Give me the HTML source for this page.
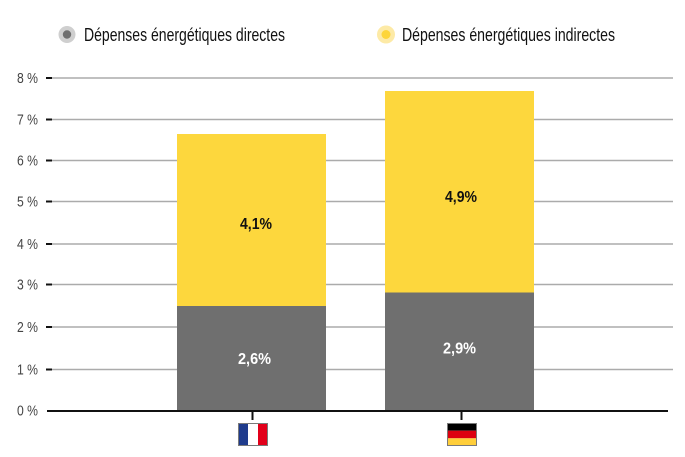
<!DOCTYPE html>
<html>
<head>
<meta charset="utf-8">
<style>
html,body{margin:0;padding:0;background:#fff;}
svg{display:block;}
text{font-family:"Liberation Sans",sans-serif;}
</style>
</head>
<body>
<svg width="685" height="457" viewBox="0 0 685 457" xmlns="http://www.w3.org/2000/svg">
  <rect width="685" height="457" fill="#fff"/>
  <!-- Legend -->
  <circle cx="67" cy="34.5" r="8.5" fill="#cfcfcf"/>
  <circle cx="67" cy="34.5" r="4.2" fill="#6f6f6f"/>
  <text x="84" y="41" font-size="18" fill="#111" textLength="201" lengthAdjust="spacingAndGlyphs">Dépenses énergétiques directes</text>
  <circle cx="386" cy="34.5" r="9" fill="#fdeaa6"/>
  <circle cx="386" cy="34.5" r="4.5" fill="#fdd53a"/>
  <text x="402" y="41" font-size="18" fill="#111" textLength="213" lengthAdjust="spacingAndGlyphs">Dépenses énergétiques indirectes</text>

  <!-- Gridlines -->
  <g stroke="#ababab" stroke-width="1.6">
    <line x1="52" y1="78" x2="673" y2="78"/>
    <line x1="52" y1="119.5" x2="673" y2="119.5"/>
    <line x1="52" y1="160.5" x2="673" y2="160.5"/>
    <line x1="52" y1="201.5" x2="673" y2="201.5"/>
    <line x1="52" y1="244" x2="673" y2="244"/>
    <line x1="52" y1="284.5" x2="673" y2="284.5"/>
    <line x1="52" y1="327" x2="673" y2="327"/>
    <line x1="52" y1="369.5" x2="673" y2="369.5"/>
  </g>
  <!-- tick marks -->
  <g stroke="#111" stroke-width="2">
    <line x1="46" y1="78" x2="52" y2="78"/>
    <line x1="46" y1="119.5" x2="52" y2="119.5"/>
    <line x1="46" y1="160.5" x2="52" y2="160.5"/>
    <line x1="46" y1="201.5" x2="52" y2="201.5"/>
    <line x1="46" y1="244" x2="52" y2="244"/>
    <line x1="46" y1="284.5" x2="52" y2="284.5"/>
    <line x1="46" y1="327" x2="52" y2="327"/>
    <line x1="46" y1="369.5" x2="52" y2="369.5"/>
  </g>
  <!-- Y labels -->
  <g font-size="14.5" fill="#444" text-anchor="end">
    <text x="38" y="83" textLength="21" lengthAdjust="spacingAndGlyphs">8 %</text>
    <text x="38" y="124.5" textLength="21" lengthAdjust="spacingAndGlyphs">7 %</text>
    <text x="38" y="165.5" textLength="21" lengthAdjust="spacingAndGlyphs">6 %</text>
    <text x="38" y="206.5" textLength="21" lengthAdjust="spacingAndGlyphs">5 %</text>
    <text x="38" y="249" textLength="21" lengthAdjust="spacingAndGlyphs">4 %</text>
    <text x="38" y="289.5" textLength="21" lengthAdjust="spacingAndGlyphs">3 %</text>
    <text x="38" y="332" textLength="21" lengthAdjust="spacingAndGlyphs">2 %</text>
    <text x="38" y="374.5" textLength="21" lengthAdjust="spacingAndGlyphs">1 %</text>
    <text x="38" y="415.5" textLength="21" lengthAdjust="spacingAndGlyphs">0 %</text>
  </g>

  <!-- Bars -->
  <rect x="177" y="134" width="149" height="172" fill="#fdd73d"/>
  <rect x="177" y="306" width="149" height="105" fill="#6f6f6f"/>
  <rect x="385" y="91" width="149" height="201.5" fill="#fdd73d"/>
  <rect x="385" y="292.5" width="149" height="118.5" fill="#6f6f6f"/>

  <!-- Value labels -->
  <g font-size="15.5" font-weight="bold" text-anchor="middle">
    <text x="256" y="229" fill="#111" textLength="32" lengthAdjust="spacingAndGlyphs">4,1%</text>
    <text x="254.5" y="364" fill="#fff" textLength="33" lengthAdjust="spacingAndGlyphs">2,6%</text>
    <text x="461" y="202" fill="#111" textLength="32" lengthAdjust="spacingAndGlyphs">4,9%</text>
    <text x="459.5" y="353.5" fill="#fff" textLength="33" lengthAdjust="spacingAndGlyphs">2,9%</text>
  </g>

  <!-- Zero axis -->
  <line x1="47" y1="411" x2="668" y2="411" stroke="#111" stroke-width="2"/>
  <line x1="252.5" y1="411" x2="252.5" y2="420" stroke="#111" stroke-width="2"/>
  <line x1="461.5" y1="411" x2="461.5" y2="420" stroke="#111" stroke-width="2"/>

  <!-- France flag -->
  <rect x="238" y="423" width="10" height="23" fill="#1f3b8c"/>
  <rect x="248" y="423" width="10" height="23" fill="#ffffff"/>
  <rect x="258" y="423" width="10" height="23" fill="#e2001a"/>
  <rect x="238.5" y="423.5" width="29" height="22" fill="none" stroke="#7a7a7a" stroke-width="1"/>

  <!-- Germany flag -->
  <rect x="447" y="423" width="30" height="7.7" fill="#000"/>
  <rect x="447" y="430.7" width="30" height="7.6" fill="#dd0010"/>
  <rect x="447" y="438.3" width="30" height="7.7" fill="#ffce3a"/>
  <rect x="447.5" y="423.5" width="29" height="22" fill="none" stroke="#7a7a7a" stroke-width="1"/>
</svg>
</body>
</html>
